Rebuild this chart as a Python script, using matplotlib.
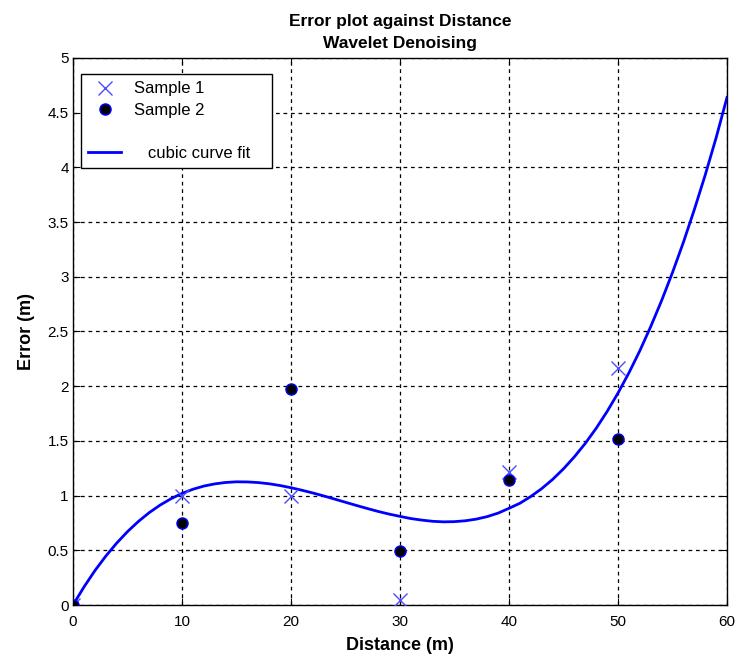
import numpy as np
import matplotlib

matplotlib.use('Agg')

import matplotlib.pyplot as plt
from matplotlib.lines import Line2D

plt.rcParams['font.family'] = ['Liberation Sans', 'DejaVu Sans']

# measured samples
distance = [0, 10, 20, 30, 40, 50]
sample1 = [0.0, 1.0, 1.0, 0.05, 1.22, 2.17]
sample2 = [0.0, 0.75, 1.97, 0.49, 1.14, 1.52]

# cubic fit curve (one reading per metre)
fit_x = list(range(0, 61))
fit_y = [0.0, 0.164, 0.313, 0.446, 0.565, 0.671, 0.764, 0.845, 0.914, 0.972,
         1.02, 1.058, 1.087, 1.107, 1.12, 1.126, 1.125, 1.119, 1.108, 1.092,
         1.072, 1.049, 1.024, 0.997, 0.968, 0.939, 0.91, 0.882, 0.855, 0.831,
         0.81, 0.79, 0.776, 0.765, 0.76, 0.762, 0.77, 0.785, 0.808, 0.84,
         0.884, 0.93, 0.992, 1.064, 1.148, 1.245, 1.355, 1.478, 1.616, 1.769,
         1.938, 2.122, 2.324, 2.545, 2.783, 3.04, 3.316, 3.614, 3.931, 4.271,
         4.64]

x_ticks = [0, 10, 20, 30, 40, 50, 60]
y_ticks = [0, 0.5, 1, 1.5, 2, 2.5, 3, 3.5, 4, 4.5, 5]
y_tick_labels = ['0', '0.5', '1', '1.5', '2', '2.5', '3', '3.5', '4', '4.5', '5']

fig = plt.figure(figsize=(7.39, 6.62), dpi=100)
ax = fig.add_axes([0.0988, 0.0861, 0.885, 0.8263])

ax.plot(distance, sample1, 'x', color=(0.3, 0.3, 1.0), markersize=10, markeredgewidth=1.0,
        label='Sample 1', zorder=4)
ax.plot(distance, sample2, 'o', markerfacecolor='k', markeredgecolor='b', markersize=8,
        markeredgewidth=1.0, label='Sample 2', zorder=4)
ax.plot(fit_x, fit_y, '-', color='b', linewidth=2, label='   cubic curve fit   ',
        solid_joinstyle='round', zorder=3)

ax.set_xlim(0, 60)
ax.set_ylim(0, 5)
ax.set_xticks(x_ticks)
ax.set_yticks(y_ticks)
ax.set_yticklabels(y_tick_labels)
ax.tick_params(direction='in', length=5, labelsize=11, top=True, right=True, pad=3)
ax.tick_params(axis='x', pad=7)
ax.grid(True, color='k', linestyle=(0, (3, 3)), linewidth=0.9)
for s in ax.spines.values():
    s.set_linewidth(1.0)

ax.set_xlabel('Distance (m)', fontsize=13, fontweight='bold', labelpad=6)
ax.set_ylabel('Error (m)', fontsize=13, fontweight='bold', labelpad=9)
ax.set_title('Error plot against Distance\nWavelet Denoising', fontsize=12.5,
             fontweight='bold', pad=7, linespacing=1.6)

h, l = ax.get_legend_handles_labels()
blank = Line2D([], [], linestyle='none', marker='none')
handles = [h[0], h[1], blank, h[2]]
labels = [l[0], l[1], ' ', l[2]]
leg = ax.legend(handles, labels, loc='upper left', bbox_to_anchor=(0.012, 0.971),
                fontsize=12, frameon=True, fancybox=False, framealpha=1,
                edgecolor='k', handlelength=1.95, labelspacing=0.39, borderpad=0.45,
                handletextpad=0.8, borderaxespad=0)
leg.get_frame().set_linewidth(1.0)

plt.savefig('out.png', dpi=100, facecolor='white')
